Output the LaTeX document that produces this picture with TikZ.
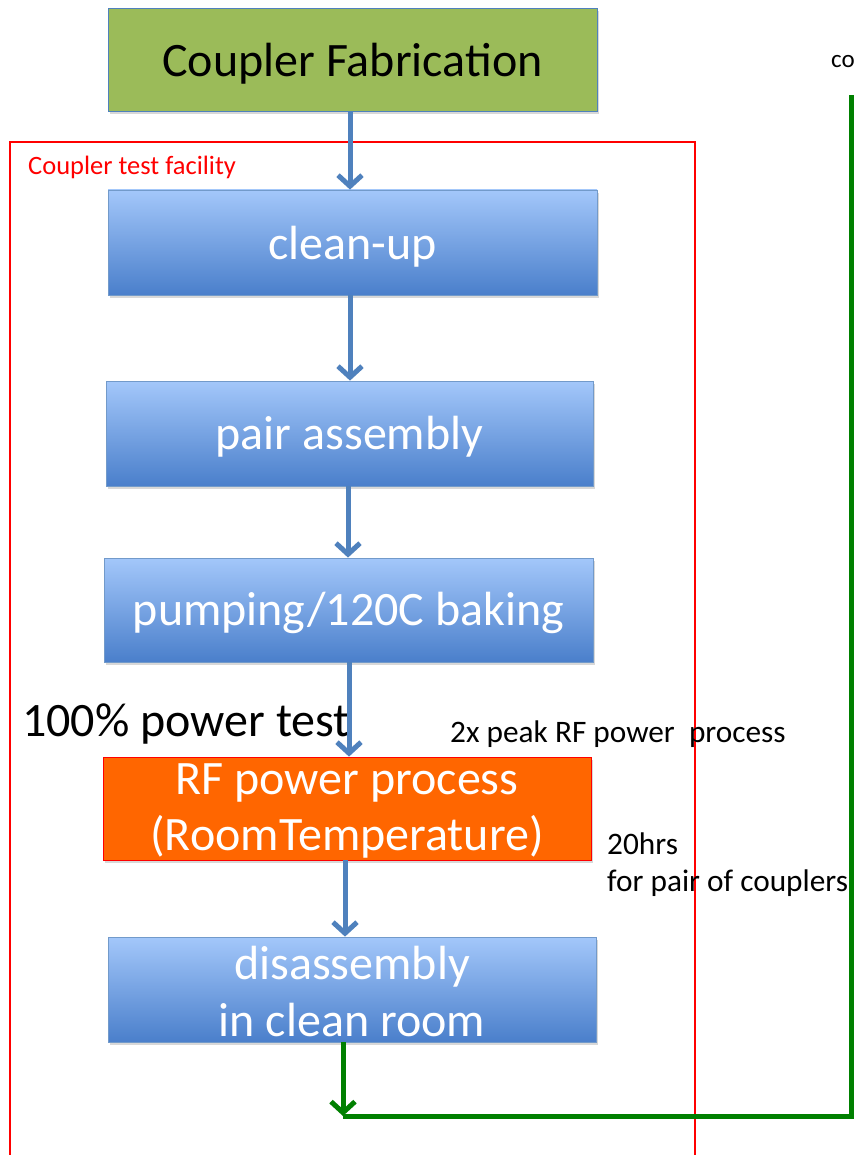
\documentclass[tikz,border=0pt]{standalone}
\usepackage{fontspec}
\setmainfont{Carlito}
\usetikzlibrary{arrows.meta,shadows}
\definecolor{fabgreen}{HTML}{9BBB59}
\definecolor{boxedge}{HTML}{4F81BD}
\definecolor{btop}{HTML}{A3C7FA}
\definecolor{bbot}{HTML}{4A7FCB}
\definecolor{arrowblue}{HTML}{4F81BD}
\definecolor{rforange}{HTML}{FF6600}
\definecolor{loopgreen}{HTML}{008000}
\begin{document}
\begin{tikzpicture}[x=1pt,y=-1pt,
  procbox/.style={draw=boxedge!80, line width=0.8pt, top color=btop, bottom color=bbot,
    text=white, font=\fontsize{48}{57}\selectfont, align=center, inner sep=0pt,
    drop shadow={shadow xshift=2pt, shadow yshift=-3pt, opacity=0.3}},
  fabbox/.style={draw=boxedge, line width=0.8pt, fill=fabgreen, text=black,
    font=\fontsize{48}{57}\selectfont, inner sep=0pt,
    drop shadow={shadow xshift=2pt, shadow yshift=-3pt, opacity=0.3}},
  rfbox/.style={draw=red, line width=0.8pt, fill=rforange, text=white,
    font=\fontsize{48}{56}\selectfont, align=center, inner sep=0pt,
    drop shadow={shadow xshift=2pt, shadow yshift=-3pt, opacity=0.3}},
  flow/.style={draw=arrowblue, line width=5pt, -{Straight Barb[length=11pt,width=24pt]}},
  loop/.style={draw=loopgreen, line width=5pt},
  note/.style={font=\fontsize{31.3}{36}\selectfont, anchor=west, align=left, inner sep=0pt},
  lbl/.style={text=white, font=\fontsize{48}{57}\selectfont, align=center, inner sep=0pt}
]
\useasboundingbox (0,0) rectangle (854,1155);
\fill[white] (0,0) rectangle (854,1155);

% facility frame
\draw[red, line width=1.2pt] (10,1175) -- (10,142) -- (695,142) -- (695,1175);
\node[text=red, font=\fontsize{26.5}{30}\selectfont, anchor=west, inner sep=0pt] (flabel) at (28,167) {Coupler test facility};

% boxes
\node[fabbox, minimum width=489pt, minimum height=103pt] (fab) at (352.5,59.5) {};
\node[procbox, minimum width=489pt, minimum height=105pt] (clean) at (352.5,242.5) {};
\node[procbox, minimum width=487pt, minimum height=105pt] (pair) at (349.5,433.5) {};
\node[procbox, minimum width=489pt, minimum height=104pt] (pump) at (348.5,610) {};
\node[rfbox, minimum width=488pt, minimum height=103pt] (rf) at (347,808.5) {};
\node[procbox, minimum width=488pt, minimum height=105pt] (dis) at (352,989.5) {};

% box texts (slightly lowered as in the reference)
\node[lbl, text=black] (fabt) at ([yshift=-4pt]fab.center) {Coupler Fabrication};
\node[lbl] (cleant) at ([yshift=-4pt]clean.center) {clean-up};
\node[lbl] (pairt) at ([yshift=-3pt]pair.center) {pair assembly};
\node[lbl] (pumpt) at ([yshift=-3pt]pump.center) {pumping/120C baking};
\node[lbl, font=\fontsize{48}{56}\selectfont] (rft) at ([yshift=-2pt]rf.center) {RF power process\\(RoomTemperature)};
\node[lbl] (dist) at ([yshift=-2pt]dis.center) {disassembly\\in clean room};

% labels
\node[font=\fontsize{48}{57}\selectfont, anchor=west, inner sep=0pt] (ptest) at (22,724) {100\% power test};
\node[note] (peak) at (450,734) {2x peak RF power\ \ process};
\node[note] (hrs) at (607,844) {20hrs};
\node[note] (pairc) at (607,883) {for pair of couplers};
\node[font=\fontsize{25}{30}\selectfont, anchor=west, inner sep=0pt] (co) at (831,62) {co};

% flow arrows
\coordinate (a1) at (350,111);
\draw[flow] (fab.south -| a1) -- (clean.north -| a1);
\draw[flow] (clean.south -| a1) -- (pair.north -| a1);
\coordinate (a2) at (348,0);
\draw[flow] (pair.south -| a2) -- (pump.north -| a2);
\coordinate (a3) at (349,0);
\draw[flow] (pump.south -| a3) -- (rf.north -| a3);
\coordinate (a4) at (345,0);
\draw[flow] (rf.south -| a4) -- (dis.north -| a4);

% green return loop
\coordinate (c1) at (343,1116);
\coordinate (c2) at (851,1116);
\coordinate (ctop) at (851,95);
\draw[loop, -{Straight Barb[length=11pt,width=24pt]}] (dis.south -| c1) -- (c1);
\draw[loop, line join=miter] (c1) -- (c2) -- (ctop);
\end{tikzpicture}
\end{document}
